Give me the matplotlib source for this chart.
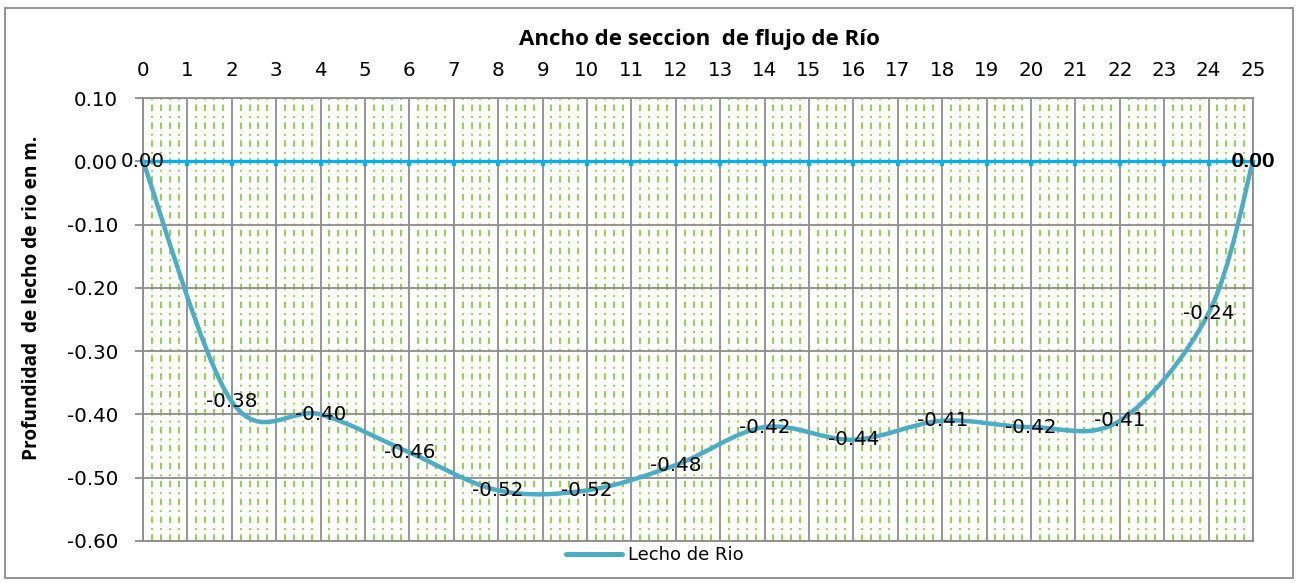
import matplotlib
matplotlib.use("Agg")
import matplotlib.pyplot as plt
import numpy as np
from matplotlib.path import Path
from matplotlib.patches import PathPatch, Rectangle
from matplotlib.lines import Line2D

# ---- data ----
x_pos = [0, 2, 4, 6, 8, 10, 12, 14, 16, 18, 20, 22, 24, 25]
depth = [0.00, -0.38, -0.40, -0.46, -0.52, -0.52, -0.48, -0.42, -0.44,
         -0.41, -0.42, -0.41, -0.24, 0.00]
x_ticks = list(range(0, 26))
y_ticks = [0.10, 0.00, -0.10, -0.20, -0.30, -0.40, -0.50, -0.60]
water_x = list(range(0, 26))
water_y = [0.0] * 26
series_name = "Lecho de Rio"
title = "Ancho de seccion  de flujo de Río"
ylabel = "Profundidad  de lecho de rio en m."

plt.rcParams["lines.scale_dashes"] = False
plt.rcParams["font.family"] = ["DejaVu Sans"]

W, H = 1298, 583
fig = plt.figure(figsize=(W / 100, H / 100), dpi=100)
ax = fig.add_axes([143 / W, 1 - 541 / H, (1253 - 143) / W, (541 - 98) / H])

grid_gray = "#8C8C8C"
green = "#92D050"
lab_fs = 14.3

ax.set_xlim(0, 25)
ax.set_ylim(-0.60, 0.10)
ax.set_xticks(x_ticks)
ax.set_xticklabels([str(v) for v in x_ticks])
ax.set_xticks(np.arange(0, 25.001, 0.2), minor=True)
ax.set_yticks(y_ticks)
ax.set_yticklabels([f"{v:.2f}" for v in y_ticks])

ax.xaxis.tick_top()
ax.tick_params(axis="x", which="major", length=0, pad=13, labelsize=lab_fs, colors="black")
ax.tick_params(axis="x", which="minor", length=0)
ax.tick_params(axis="y", which="major", length=6, width=1.3, color=grid_gray,
               pad=12, labelsize=lab_fs)
for s in ax.spines.values():
    s.set_color(grid_gray)
    s.set_linewidth(1.3)

ax.grid(which="major", color=grid_gray, lw=1.3, zorder=1)
ax.grid(which="minor", axis="x", color=green, lw=1.4,
        linestyle=(0, (4.7, 3.2, 1.4, 3.6)), zorder=0)
ax.set_axisbelow(True)

# water surface line with tick marks
ax.plot(water_x, water_y, color="#00B0F0", lw=2.4, marker=3, markersize=3.8,
        markeredgewidth=2.8, markeredgecolor="#00B0F0", zorder=3, clip_on=False)

# Excel-like smoothed curve (cubic Bezier, Catmull-Rom tangents)
pts = np.column_stack([x_pos, depth]).astype(float)
n = len(pts)
verts = [tuple(pts[0])]
codes = [Path.MOVETO]
for i in range(n - 1):
    p0 = pts[i - 1] if i > 0 else pts[i]
    p1 = pts[i]
    p2 = pts[i + 1]
    p3 = pts[i + 2] if i + 2 < n else pts[i + 1]
    c1 = p1 + (p2 - p0) / 6.0
    c2 = p2 - (p3 - p1) / 6.0
    verts += [tuple(c1), tuple(c2), tuple(p2)]
    codes += [Path.CURVE4] * 3
curve_color = "#4BACC6"
ax.add_patch(PathPatch(Path(verts, codes), fill=False, edgecolor=curve_color,
                       lw=3.2, zorder=4, capstyle="round", joinstyle="round"))

# data labels
for xv, yv in zip(x_pos, depth):
    ax.text(xv, yv, f"{yv:.2f}", ha="center", va="center", fontsize=lab_fs,
            zorder=6, clip_on=False)
# doubled label at the end (appears bold in reference)
ax.annotate(f"{depth[-1]:.2f}", (x_pos[-1], depth[-1]), xytext=(0.7, 0),
            textcoords="offset points", ha="center", va="center",
            fontsize=lab_fs, zorder=6)

fig.text(699 / W, 1 - 40 / H, title, ha="center", va="center",
         fontsize=16, fontweight="bold", family=["Open Sans", "DejaVu Sans"])
fig.text(32 / W, 1 - 298 / H, ylabel, ha="center", va="center", rotation=90,
         fontsize=13.7, fontweight="bold", family=["Open Sans", "DejaVu Sans"])

handle = Line2D([], [], color=curve_color, lw=3.6, solid_capstyle="round")
fig.legend([handle], [series_name], loc="center",
           bbox_to_anchor=(655 / W, 1 - 555 / H), frameon=False,
           fontsize=13, handlelength=3.1, handletextpad=0.3)

fig.patches.append(Rectangle((5 / W, 5 / H), (W - 10) / W, (H - 13) / H,
                             transform=fig.transFigure, fill=False,
                             edgecolor="#8C8C8C", lw=1.3))

fig.savefig("out.png", dpi=100)
